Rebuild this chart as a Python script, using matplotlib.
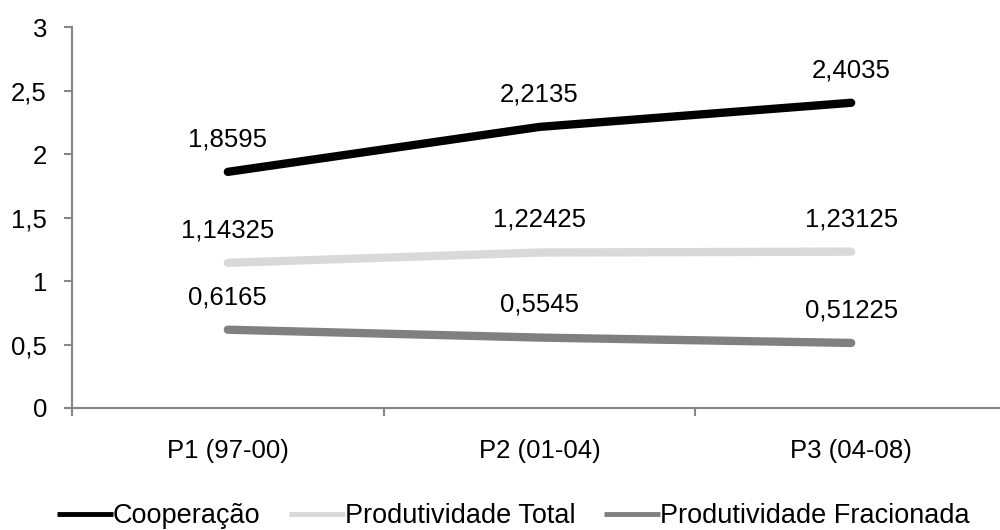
import matplotlib.pyplot as plt

plt.rcParams['font.family'] = ['Liberation Sans', 'DejaVu Sans']

periods = ['P1 (97-00)', 'P2 (01-04)', 'P3 (04-08)']
cooperacao = [1.8595, 2.2135, 2.4035]
prod_total = [1.14325, 1.22425, 1.23125]
prod_frac = [0.6165, 0.5545, 0.51225]
labels_coop = ['1,8595', '2,2135', '2,4035']
labels_total = ['1,14325', '1,22425', '1,23125']
labels_frac = ['0,6165', '0,5545', '0,51225']

series = [
    ('Cooperação', cooperacao, labels_coop, '#000000'),
    ('Produtividade Total', prod_total, labels_total, '#d9d9d9'),
    ('Produtividade Fracionada', prod_frac, labels_frac, '#808080'),
]

fs = 18.5

fig = plt.figure(figsize=(10, 5.3), dpi=100)
ax = fig.add_axes([0.072, 0.2302, 0.935, 0.7188])

x = range(len(periods))
for name, vals, labs, col in series:
    ax.plot(x, vals, color=col, lw=6, solid_capstyle='round', label=name)
    for xi, v, t in zip(x, vals, labs):
        ax.annotate(t, (xi, v), xytext=(0, 23.5), textcoords='offset points',
                    ha='center', va='center', fontsize=fs)

ax.set_xlim(-0.5, 2.5)
ax.set_ylim(0, 3)
ax.set_yticks([0, 0.5, 1, 1.5, 2, 2.5, 3])
ax.set_yticklabels(['0', '0,5', '1', '1,5', '2', '2,5', '3'], fontsize=fs)
ax.set_xticks([0, 1, 2])
ax.set_xticklabels(periods, fontsize=fs)
ax.set_xticks([-0.5, 0.5, 1.5, 2.5], minor=True)
ax.tick_params(axis='x', which='major', length=0, pad=22)
ax.tick_params(axis='x', which='minor', length=6, color='#868686', width=1.5)
ax.tick_params(axis='y', length=6, color='#868686', width=1.5, pad=12)

for s in ['top', 'right']:
    ax.spines[s].set_visible(False)
for s in ['left', 'bottom']:
    ax.spines[s].set_color('#868686')
    ax.spines[s].set_linewidth(1.5)

leg = fig.legend(loc='lower center', bbox_to_anchor=(0.513, -0.045), ncol=3, frameon=False,
                 fontsize=19.5, handlelength=2.07, handletextpad=0.0, columnspacing=1.05)
for ln in leg.get_lines():
    ln.set_linewidth(3.5)
    ln.set_solid_capstyle('butt')

fig.savefig('out.png', dpi=100)
